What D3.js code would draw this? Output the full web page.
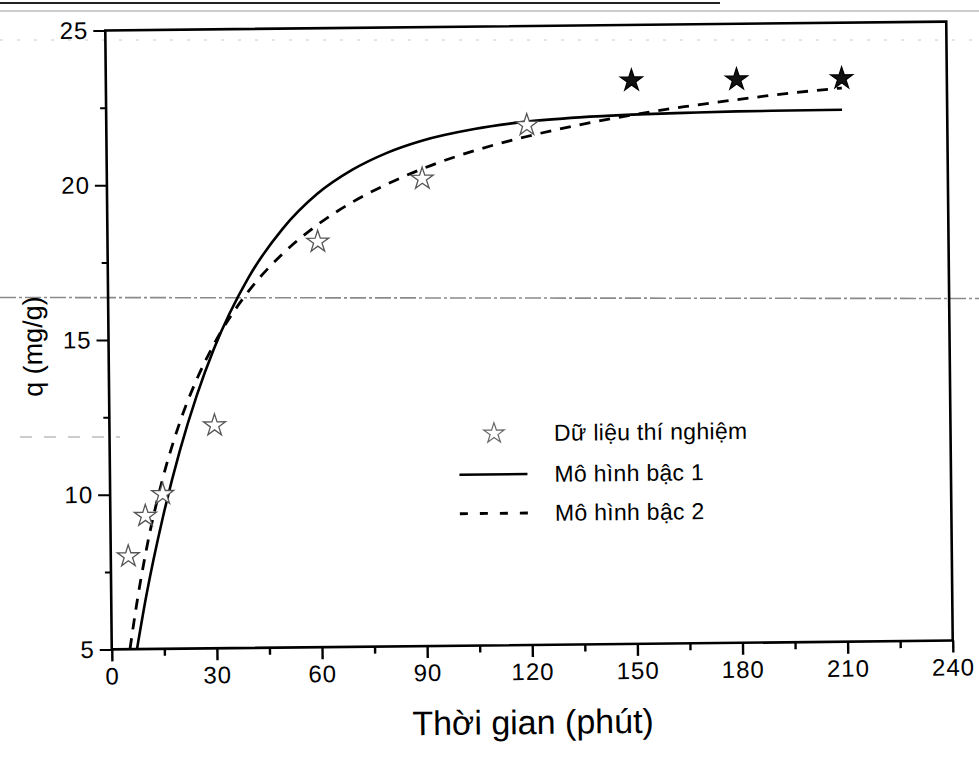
<!DOCTYPE html>
<html>
<head>
<meta charset="utf-8">
<script src="https://cdn.jsdelivr.net/npm/d3@7"></script>
<style>
  body { margin: 0; background: #fff; }
  svg text { font-family: "Liberation Sans", Arial, sans-serif; fill: #000; }
</style>
</head>
<body>
<svg id="chart" width="979" height="764"></svg>
<script>
// Axis ticks
const xTicks = [0, 30, 60, 90, 120, 150, 180, 210, 240];
const xMinor = [15, 45, 75, 105, 135, 165, 195, 225];
const yTicks = [5, 10, 15, 20, 25];
const yMinor = [7.5, 12.5, 17.5, 22.5];

// Measured adsorption capacity q (mg/g) over time (min)
const expTime = [5, 10, 15, 30, 60, 90, 120, 150, 180, 210];
const expQ    = [8.0, 9.3, 10.0, 12.2, 18.1, 20.1, 21.8, 23.2, 23.2, 23.2];

// Pseudo-first-order model curve
const model1Time = [7.2, 10, 15, 20, 25, 30, 40, 50, 60, 70, 80, 90, 105, 120, 135, 150, 165, 180, 195, 210];
const model1Q    = [5.0, 6.71, 9.26, 11.39, 13.17, 14.66, 16.94, 18.53, 19.65, 20.41, 20.95, 21.33, 21.69, 21.91, 22.03, 22.1, 22.14, 22.17, 22.18, 22.19];

// Pseudo-second-order model curve
const model2Time = [5.2, 7, 10, 15, 20, 25, 30, 40, 50, 60, 70, 80, 90, 105, 120, 135, 150, 165, 180, 195, 210];
const model2Q    = [5.0, 6.29, 8.12, 10.48, 12.28, 13.68, 14.81, 16.51, 17.73, 18.65, 19.37, 19.94, 20.42, 20.99, 21.43, 21.79, 22.09, 22.34, 22.55, 22.74, 22.89];

const legendLabels = ["Dữ liệu thí nghiệm", "Mô hình bậc 1", "Mô hình bậc 2"];
const xTitle = "Thời gian (phút)";
const yTitle = "q (mg/g)";

const svg = d3.select("#chart");

// faint ruled lines across the page
const rules = svg.append("g");
rules.append("line").attr("x1", 0).attr("x2", 720).attr("y1", 3).attr("y2", 3)
  .attr("stroke", "#222").attr("stroke-width", 2);
rules.append("line").attr("x1", 0).attr("x2", 979).attr("y1", 11).attr("y2", 11)
  .attr("stroke", "#999").attr("stroke-width", 1);
rules.append("line").attr("x1", 0).attr("x2", 979).attr("y1", 40).attr("y2", 40)
  .attr("stroke", "#c8c8c8").attr("stroke-width", 1).attr("stroke-dasharray", "3,14");
rules.append("line").attr("x1", 0).attr("x2", 979).attr("y1", 297.5).attr("y2", 298.5)
  .attr("stroke", "#8a8a8a").attr("stroke-width", 1.6).attr("stroke-dasharray", "16,3,3,3");
rules.append("line").attr("x1", 20).attr("x2", 120).attr("y1", 437).attr("y2", 437)
  .attr("stroke", "#999").attr("stroke-width", 1.2).attr("stroke-dasharray", "12,12");

// plot geometry
const L = 108.5, T = 26, W = 841, H = 619;
const cx = L + W / 2, cy = T + H / 2;

const g = svg.append("g").attr("transform", `rotate(-0.6,${cx},${cy})`);

const x = d3.scaleLinear().domain([0, 240]).range([L, L + W]);
const y = d3.scaleLinear().domain([5, 25]).range([T + H, T]);

// frame
g.append("rect").attr("x", L).attr("y", T).attr("width", W).attr("height", H)
  .attr("fill", "none").attr("stroke", "#000").attr("stroke-width", 2.6);

// x axis
const xAxis = g.append("g").attr("transform", `translate(0,${T + H})`)
  .call(d3.axisBottom(x).tickValues(xTicks).tickSize(12).tickPadding(6).tickFormat(d3.format("d")));
xAxis.select(".domain").remove();
xAxis.selectAll(".tick line").attr("stroke-width", 2.4);
xAxis.selectAll(".tick text").attr("font-size", 24).attr("letter-spacing", 1)
  .attr("font-family", "'Liberation Sans', Arial, sans-serif");

const xAxisMinor = g.append("g").attr("transform", `translate(0,${T + H})`)
  .call(d3.axisBottom(x).tickValues(xMinor).tickSize(7).tickFormat(""));
xAxisMinor.select(".domain").remove();
xAxisMinor.selectAll(".tick line").attr("stroke-width", 2.4);

// y axis
const yAxis = g.append("g").attr("transform", `translate(${L},0)`)
  .call(d3.axisLeft(y).tickValues(yTicks).tickSize(12).tickPadding(5).tickFormat(d3.format("d")));
yAxis.select(".domain").remove();
yAxis.selectAll(".tick line").attr("stroke-width", 2);
yAxis.selectAll(".tick text").attr("font-size", 24).attr("letter-spacing", 1)
  .attr("font-family", "'Liberation Sans', Arial, sans-serif");

const yAxisMinor = g.append("g").attr("transform", `translate(${L},0)`)
  .call(d3.axisLeft(y).tickValues(yMinor).tickSize(6).tickFormat(""));
yAxisMinor.select(".domain").remove();
yAxisMinor.selectAll(".tick line").attr("stroke-width", 2);

// axis titles
g.append("text").attr("x", x(120)).attr("y", 734).attr("text-anchor", "middle")
  .attr("font-size", 34).text(xTitle);
g.append("text").attr("transform", `translate(42,${y(15) + 6}) rotate(-90)`)
  .attr("text-anchor", "middle").attr("font-size", 27).text(yTitle);

// model curves
const line = d3.line().x(d => x(d[0])).y(d => y(d[1])).curve(d3.curveMonotoneX);
const m1 = model1Time.map((t, i) => [t, model1Q[i]]);
const m2 = model2Time.map((t, i) => [t, model2Q[i]]);

g.append("path").datum(m1).attr("d", line)
  .attr("fill", "none").attr("stroke", "#000").attr("stroke-width", 2.6);
g.append("path").datum(m2).attr("d", line)
  .attr("fill", "none").attr("stroke", "#000").attr("stroke-width", 2.8)
  .attr("stroke-dasharray", "11,9");

// measured points as stars
const star = d3.symbol(d3.symbolStar, 150);
const pts = expTime.map((t, i) => [t, expQ[i]]);
g.append("g").selectAll("path").data(pts).join("path")
  .attr("d", star)
  .attr("transform", d => `translate(${x(d[0])},${y(d[1])})`)
  .attr("fill", d => d[1] >= 23 ? "#111" : "#fff")
  .attr("stroke", d => d[1] >= 23 ? "#000" : "#555")
  .attr("stroke-width", 1.3);

// legend
const lg = g.append("g");
const lgX = 458, lgTextX = 553, lgY = [433, 474, 513];
lg.append("path").attr("d", d3.symbol(d3.symbolStar, 130)())
  .attr("transform", `translate(493,${lgY[0]})`)
  .attr("fill", "#fff").attr("stroke", "#666").attr("stroke-width", 1.2);
lg.append("line").attr("x1", lgX).attr("x2", lgX + 68).attr("y1", lgY[1]).attr("y2", lgY[1])
  .attr("stroke", "#000").attr("stroke-width", 2.6);
lg.append("line").attr("x1", lgX).attr("x2", lgX + 68).attr("y1", lgY[2]).attr("y2", lgY[2])
  .attr("stroke", "#000").attr("stroke-width", 2.8).attr("stroke-dasharray", "8,12");
lg.selectAll("text.lab").data(legendLabels).join("text").attr("class", "lab")
  .attr("x", lgTextX).attr("y", (d, i) => lgY[i]).attr("dy", "0.35em")
  .attr("font-size", 23).attr("letter-spacing", 0.3).text(d => d);
</script>
</body>
</html>
